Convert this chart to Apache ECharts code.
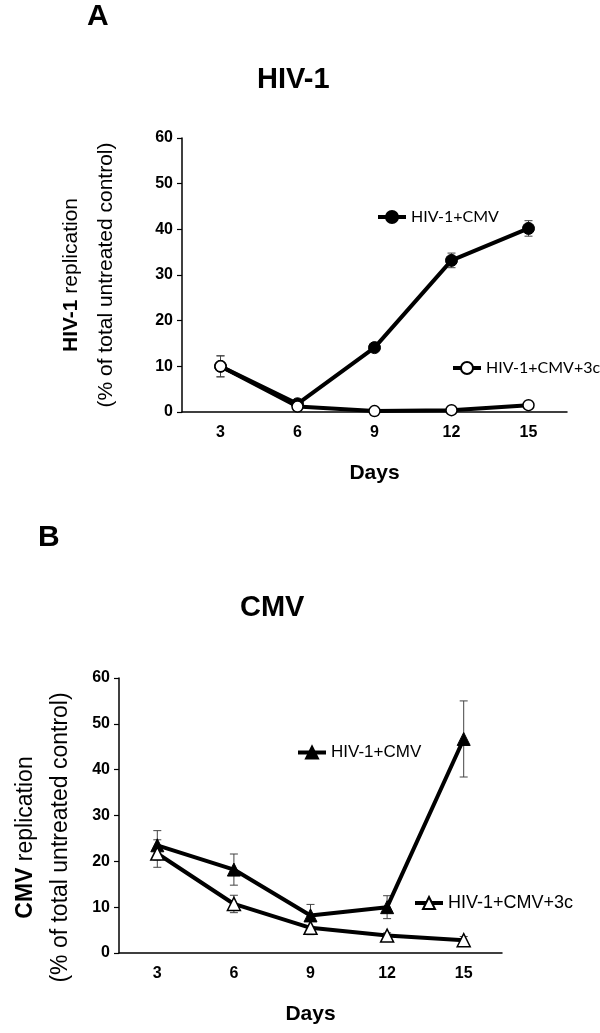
<!DOCTYPE html>
<html>
<head>
<meta charset="utf-8">
<script src="https://cdn.jsdelivr.net/npm/echarts@6/dist/echarts.min.js"></script>
<style>
  html, body { margin: 0; padding: 0; background: #fff; }
  #a { position: absolute; left: 0; top: 0; width: 600px; height: 500px; }
  #b { position: absolute; left: 0; top: 500px; width: 600px; height: 533px; }
</style>
</head>
<body>
<div id="a"></div>
<div id="b"></div>
<script>
// ---- data ----
const days = ['3', '6', '9', '12', '15'];

const hivCmvA = [10, 1.8, 14.1, 33.2, 40.2];
const hivCmvAErr = [2.3, 0.5, 0.5, 1.6, 1.7];
const hiv3cA = [10, 1.2, 0.2, 0.4, 1.5];
const hiv3cAErr = [2.3, 0.3, 0.2, 0.2, 0.3];

const hivCmvB = [23.5, 18.2, 8.2, 10.0, 46.7];
const hivCmvBErr = [3.2, 3.4, 2.4, 2.5, 8.3];
const hiv3cB = [21.7, 10.7, 5.5, 3.8, 2.8];
const hiv3cBErr = [3.0, 1.9, 1.5, 0.6, 0.8];

const nameCmv = 'HIV-1+CMV';
const name3c = 'HIV-1+CMV+3c';

// ---- helpers ----
const ARIAL = '"Liberation Sans", Arial, sans-serif';
const LATO = '"Lato", "Open Sans", sans-serif';

function errData(vals, errs) {
  return vals.map((v, i) => [i, Math.max(0, v - errs[i]), v + errs[i]]);
}
function errRender(params, api) {
  const x = api.value(0);
  const p1 = api.coord([x, api.value(1)]);
  const p2 = api.coord([x, api.value(2)]);
  const w = 4;
  const st = { stroke: '#444', lineWidth: 1 };
  return {
    type: 'group',
    children: [
      { type: 'line', shape: { x1: p1[0], y1: p1[1], x2: p2[0], y2: p2[1] }, style: st },
      { type: 'line', shape: { x1: p1[0] - w, y1: p1[1], x2: p1[0] + w, y2: p1[1] }, style: st },
      { type: 'line', shape: { x1: p2[0] - w, y1: p2[1], x2: p2[0] + w, y2: p2[1] }, style: st }
    ]
  };
}
function xAxisOpt() {
  return {
    type: 'category', data: days, boundaryGap: true,
    axisLine: { lineStyle: { color: '#000', width: 1.5 } },
    axisTick: { alignWithLabel: true, length: 5, lineStyle: { color: '#000', width: 1.2 } },
    axisLabel: { color: '#000', fontFamily: ARIAL, fontWeight: 'bold', fontSize: 16, margin: 13 },
    name: 'Days', nameLocation: 'middle', nameGap: 51,
    nameTextStyle: { color: '#000', fontFamily: ARIAL, fontWeight: 'bold', fontSize: 21 }
  };
}
function yAxisOpt(boldWord, gap, fs, pad) {
  return {
    type: 'value', min: 0, max: 60, interval: 10,
    splitLine: { show: false },
    axisLine: { show: true, lineStyle: { color: '#000', width: 1.5 } },
    axisTick: { show: true, length: 5, lineStyle: { color: '#000', width: 1.2 } },
    axisLabel: { color: '#000', fontFamily: ARIAL, fontWeight: 'bold', fontSize: 16, margin: 9 },
    name: '{b|' + boldWord + '} replication\n(% of total untreated control)',
    nameLocation: 'middle', nameRotate: 90, nameGap: gap,
    nameTextStyle: {
      color: '#000', fontFamily: ARIAL, fontSize: fs, lineHeight: 35, padding: pad,
      rich: { b: { color: '#000', fontFamily: ARIAL, fontWeight: 'bold', fontSize: fs, lineHeight: 35 } }
    }
  };
}
function legendOpt(name, left, top, font, fs) {
  return {
    data: [name], left: left, top: top, padding: 0,
    selectedMode: false, itemWidth: 28, itemHeight: 15,
    lineStyle: { width: 4 },
    textStyle: { color: '#000', fontFamily: font, fontSize: fs }
  };
}
function titleOpt(text, left, top, fs) {
  return { text: text, left: left, top: top, padding: 0,
    textStyle: { color: '#000', fontFamily: ARIAL, fontWeight: 'bold', fontSize: fs } };
}

// ---- chart A ----
const chartA = echarts.init(document.getElementById('a'), null, { renderer: 'canvas' });
chartA.setOption({
  animation: false,
  title: [titleOpt('A', 87, 2, 30), titleOpt('HIV-1', 257, 65, 29)],
  grid: { left: 182, top: 138, width: 385, height: 274 },
  legend: [
    legendOpt(nameCmv, 376, 209, LATO, 16),
    legendOpt(name3c, 451, 360, LATO, 16)
  ],
  xAxis: xAxisOpt(),
  yAxis: yAxisOpt('HIV-1', 58, 21, [0, 0, 0, 0]),
  series: [
    { type: 'custom', name: 'errA1', renderItem: errRender, data: errData(hivCmvA, hivCmvAErr), z: 1, silent: true },
    { type: 'custom', name: 'errA2', renderItem: errRender, data: errData(hiv3cA, hiv3cAErr), z: 1, silent: true },
    { type: 'line', name: nameCmv, data: hivCmvA, symbol: 'circle', symbolSize: 12, z: 3,
      lineStyle: { color: '#000', width: 4 }, itemStyle: { color: '#000', borderColor: '#000', borderWidth: 1 } },
    { type: 'line', name: name3c, data: hiv3cA, symbol: 'circle', symbolSize: 11, z: 4,
      lineStyle: { color: '#000', width: 4 }, itemStyle: { color: '#fff', borderColor: '#000', borderWidth: 1.5 } }
  ]
});

// ---- chart B ----
const chartB = echarts.init(document.getElementById('b'), null, { renderer: 'canvas' });
chartB.setOption({
  animation: false,
  title: [titleOpt('B', 38, 23, 30), titleOpt('CMV', 240, 93, 29)],
  grid: { left: 108, top: 178, width: 394, height: 275 },
  legend: [
    legendOpt(nameCmv, 296, 244, ARIAL, 17),
    legendOpt(name3c, 413, 394, ARIAL, 18)
  ],
  xAxis: xAxisOpt(),
  yAxis: yAxisOpt('CMV', 41, 23, [0, 44, 0, 0]),
  series: [
    { type: 'custom', name: 'errB1', renderItem: errRender, data: errData(hivCmvB, hivCmvBErr), z: 1, silent: true },
    { type: 'custom', name: 'errB2', renderItem: errRender, data: errData(hiv3cB, hiv3cBErr), z: 1, silent: true },
    { type: 'line', name: nameCmv, data: hivCmvB, symbol: 'triangle', symbolSize: 13, z: 3,
      lineStyle: { color: '#000', width: 4 }, itemStyle: { color: '#000', borderColor: '#000', borderWidth: 1 } },
    { type: 'line', name: name3c, data: hiv3cB, symbol: 'triangle', symbolSize: 13, z: 4,
      lineStyle: { color: '#000', width: 4 }, itemStyle: { color: '#fff', borderColor: '#000', borderWidth: 1.5 } }
  ]
});
</script>
</body>
</html>
